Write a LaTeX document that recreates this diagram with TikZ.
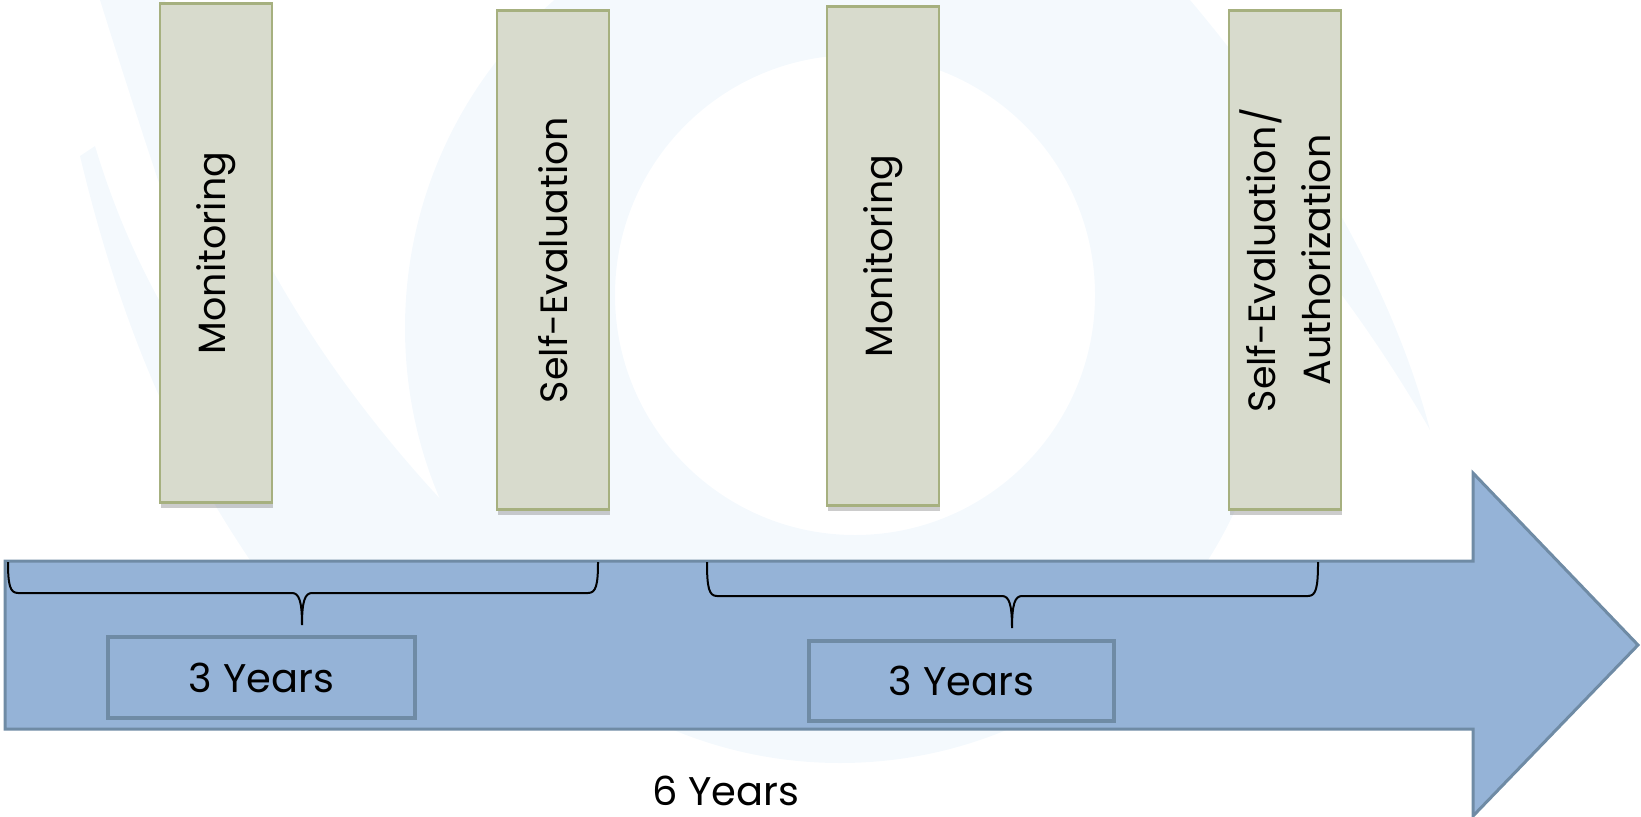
\documentclass[tikz,border=0pt]{standalone}
\usepackage{fontspec}
\setsansfont{Poppins}
\usepackage{tikz}
\usetikzlibrary{shadows, positioning}

\definecolor{barblue}{HTML}{95B3D7}
\definecolor{baredge}{HTML}{6F8BA5}
\definecolor{stagefill}{HTML}{D8DBCD}
\definecolor{stageedge}{HTML}{A6B07F}
\definecolor{markblue}{HTML}{F4F9FD}

% curly brace over one period: left x, right x, tip x, top y, bar y
\newcommand{\yearbrace}[5]{%
    \draw [bracket] (#1,#4) .. controls (#1,#5+8) and (#1+2,#5) .. (#1+10,#5)
        -- (#3-10,#5) .. controls (#3-3,#5) and (#3,#5-8) .. (#3,#5-32)
        .. controls (#3,#5-8) and (#3+3,#5) .. (#3+10,#5)
        -- (#2-10,#5) .. controls (#2-2,#5) and (#2,#5+8) .. (#2,#4);
}

\begin{document}
\begin{tikzpicture}[
    % GLOBAL CFG
    x=0.5pt, y=0.5pt,
    font=\sffamily,
    % Styles
    stage/.style={% For the grey boxes
        rectangle,
        draw=stageedge,
        fill=stagefill,
        line width=1.2pt,
        minimum width=56pt,
        minimum height=249.5pt,
        inner sep=0pt,
        drop shadow={shadow xshift=0.5pt, shadow yshift=-2.5pt, opacity=0.4},
        },
    stagetext/.style={% For the texts standing up in the boxes
        rotate=90,
        align=center,
        inner sep=0pt,
        font=\sffamily\fontsize{19}{27.5}\selectfont,
        },
    period/.style={% For the years boxes on the arrow
        rectangle,
        draw=baredge,
        line width=2pt,
        inner sep=0pt,
        font=\sffamily\fontsize{20}{24}\selectfont,
        },
    timeline/.style={% The big arrow
        draw=baredge,
        fill=barblue,
        line width=1.5pt,
        line join=miter,
        },
    bracket/.style={% For the braces
        line width=1pt,
        },
    ]

    \useasboundingbox (0,0) rectangle (1641,816);

    % Draw the watermark
    \begin{scope}
        \clip (0,0) rectangle (1641,816);
        \fill [markblue, even odd rule] (840,488) circle (435) (855,521) circle (240);
        \fill [markblue] (100,816) .. controls (180,560) and (240,400) .. (290,256)
            -- (500,256) .. controls (330,420) and (220,600) .. (165,816) -- cycle;
        \fill [markblue] (80,660) .. controls (130,450) and (200,330) .. (250,256)
            -- (360,256) .. controls (220,400) and (140,520) .. (95,670) -- cycle;
        \fill [markblue] (1060,816) -- (1190,816) .. controls (1330,650) and (1400,500) .. (1430,386)
            .. controls (1330,560) and (1200,700) .. (1060,816) -- cycle;
    \end{scope}

    % Draw the arrow
    \draw [timeline] (5,87) -- (1473,87) -- (1473,0) -- (1638,171)
        -- (1473,343) -- (1473,255) -- (5,255) -- cycle;

    % Draw the stages named stage#
    \node [stage] (stage1) at (216,563) {};
    \node [stage] (stage2) at (553,556) {};
    \node [stage] (stage3) at (883,560) {};
    \node [stage] (stage4) at (1285,556) {};

    \node [stagetext] (mon1) at (stage1.center) {Monitoring};
    \node [stagetext] (self1) at (stage2.center) {Self-Evaluation};
    \node [stagetext] (mon2) at (stage3.center) {Monitoring};
    \node [stagetext] (self2) at (stage4.center) {Self-Evaluation/\\Authorization};

    % Braces
    \yearbrace{8}{598}{302}{254}{223}
    \yearbrace{707}{1318}{1012}{254}{220}

    % Periods
    \node [period, minimum width=153.5pt, minimum height=40.5pt] (per1) at (261.5,138.5) {3 Years};
    \node [period, minimum width=152.5pt, minimum height=40pt] (per2) at (961.5,135) {3 Years};

    \node [anchor=base, inner sep=0pt, font=\sffamily\fontsize{20}{24}\selectfont] (total) at (726,11) {6 Years};

\end{tikzpicture}
\end{document}
